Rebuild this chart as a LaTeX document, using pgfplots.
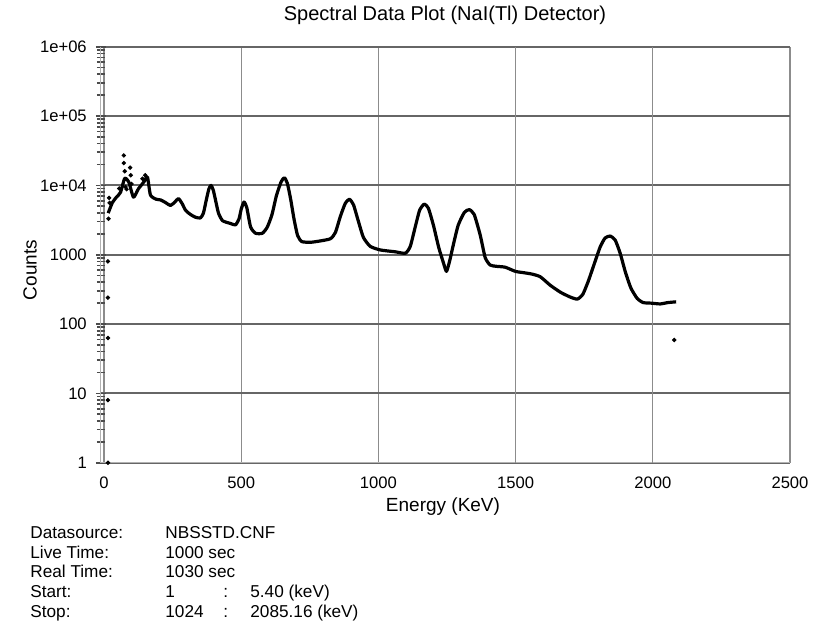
\documentclass[border=0pt]{standalone}
\usepackage{pgfplots}
\pgfplotsset{compat=1.18}
\usepackage{fontspec}
\setmainfont{Liberation Sans}
\begin{document}
\begin{tikzpicture}
\useasboundingbox (0,0) rectangle (412.5pt,311.5pt);
\begin{axis}[
  at={(50.4pt,80.15pt)}, anchor=south west,
  scale only axis, width=344.6pt, height=208pt,
  xmin=-12, xmax=2500, ymode=log, ymin=1, ymax=1e6,
  axis lines*=left,
  axis line style={gray!60, line width=0.5pt},
  xtick={0,500,1000,1500,2000,2500},
  xticklabels={0,500,1000,1500,2000,2500},
  ytick={1,10,100,1000,1e4,1e5,1e6},
  yticklabels={1,10,100,1000,1e+04,1e+05,1e+06},
  xtick style={draw=none},
  ytick style={black!70, line width=0.8pt},
  minor ytick={2,3,4,5,6,7,8,9,20,30,40,50,60,70,80,90,200,300,400,500,600,700,800,900,2000,3000,4000,5000,6000,7000,8000,9000,2e4,3e4,4e4,5e4,6e4,7e4,8e4,9e4,2e5,3e5,4e5,5e5,6e5,7e5,8e5,9e5},
  tick align=center, major tick length=5pt, minor tick length=4pt,
  ymajorgrids, xmajorgrids,
  y grid style={black!60, line width=0.9pt},
  x grid style={black!45, line width=0.6pt},
  extra x ticks={1500,2000}, extra x tick labels={},
  extra x tick style={grid style={black, line width=1pt}},
  tick label style={font=\fontsize{8.3pt}{9pt}\selectfont},
  yticklabel style={xshift=-1pt},
  xticklabel style={yshift=-1pt},
]
\addplot[black, line width=1.6pt, line join=round, smooth, tension=0.35] coordinates {
(15,3980)(30,5620)(45,6760)(60,7940)(75,12600)(90,11200)(107,6760)(125,8900)
(145,11200)(158,13200)(169,7240)(190,6310)(206,6170)(225,5620)(242,5130)(258,5750)
(271,6460)(284,5500)(297,4370)(315,3800)(333,3470)(351,3390)(362,3980)(372,6030)
(382,8910)(390,10000)(398,8510)(406,6170)(417,3980)(432,3090)(461,2820)(479,2690)
(492,3310)(500,4570)(510,5750)(520,4790)(534,2510)(552,2040)(577,2040)(595,2510)
(612,3800)(628,7080)(645,11200)(657,12900)(668,10700)(680,6310)(692,3310)(705,1910)
(720,1550)(752,1510)(788,1580)(825,1700)(843,2090)(861,3550)(879,5500)(894,6310)
(909,5250)(927,3020)(945,1780)(970,1320)(1007,1170)(1062,1100)(1098,1050)(1116,1320)
(1134,2510)(1150,4370)(1167,5370)(1182,4680)(1200,2690)(1220,1260)(1237,760)(1248,575)
(1260,830)(1275,1510)(1291,2690)(1313,4070)(1331,4470)(1349,3800)(1371,1910)(1389,910)
(1407,710)(1430,680)(1462,660)(1499,575)(1530,550)(1560,525)(1590,480)(1626,363)
(1663,288)(1699,245)(1725,229)(1745,269)(1765,417)(1785,708)(1808,1290)(1826,1740)
(1845,1860)(1863,1620)(1881,1050)(1900,562)(1920,331)(1943,234)(1965,204)(1995,200)
(2027,195)(2055,204)(2085,209)
};
\addplot[only marks, mark=*, mark size=0.9pt, black] coordinates {
(72,27000)(72,21000)(75,16000)(78,9500)(95,18000)(97,14000)(100,10500)(82,8800)
(18,6600)(20,5600)(16,3300)(55,9000)(140,12500)(150,14000)
(14,800)(14,240)(14,63)(14,8)(14,1)(2078,59)
};
\end{axis}
\node[font=\fontsize{10pt}{12pt}\selectfont] at (222.5pt,304pt) {Spectral Data Plot (NaI(Tl) Detector)};
\node[font=\fontsize{9.5pt}{11pt}\selectfont] at (221.5pt,58pt) {Energy (KeV)};
\node[font=\fontsize{9.5pt}{11pt}\selectfont, rotate=90] at (15pt,176.5pt) {Counts};
\begin{scope}[every node/.style={font=\fontsize{8.6pt}{10pt}\selectfont, anchor=base west, inner sep=0pt}]
\node at (15pt,42.4pt) {Datasource:};
\node at (15pt,32.4pt) {Live Time:};
\node at (15pt,22.9pt) {Real Time:};
\node at (15pt,12.9pt) {Start:};
\node at (15pt,2.9pt) {Stop:};
\node at (82.5pt,42.4pt) {NBSSTD.CNF};
\node at (82.5pt,32.4pt) {1000 sec};
\node at (82.5pt,22.9pt) {1030 sec};
\node at (82.5pt,12.9pt) {1};
\node at (82.5pt,2.9pt) {1024};
\node at (111.5pt,12.9pt) {:};
\node at (111.5pt,2.9pt) {:};
\node at (125pt,12.9pt) {5.40 (keV)};
\node at (125pt,2.9pt) {2085.16 (keV)};
\end{scope}
\end{tikzpicture}
\end{document}
